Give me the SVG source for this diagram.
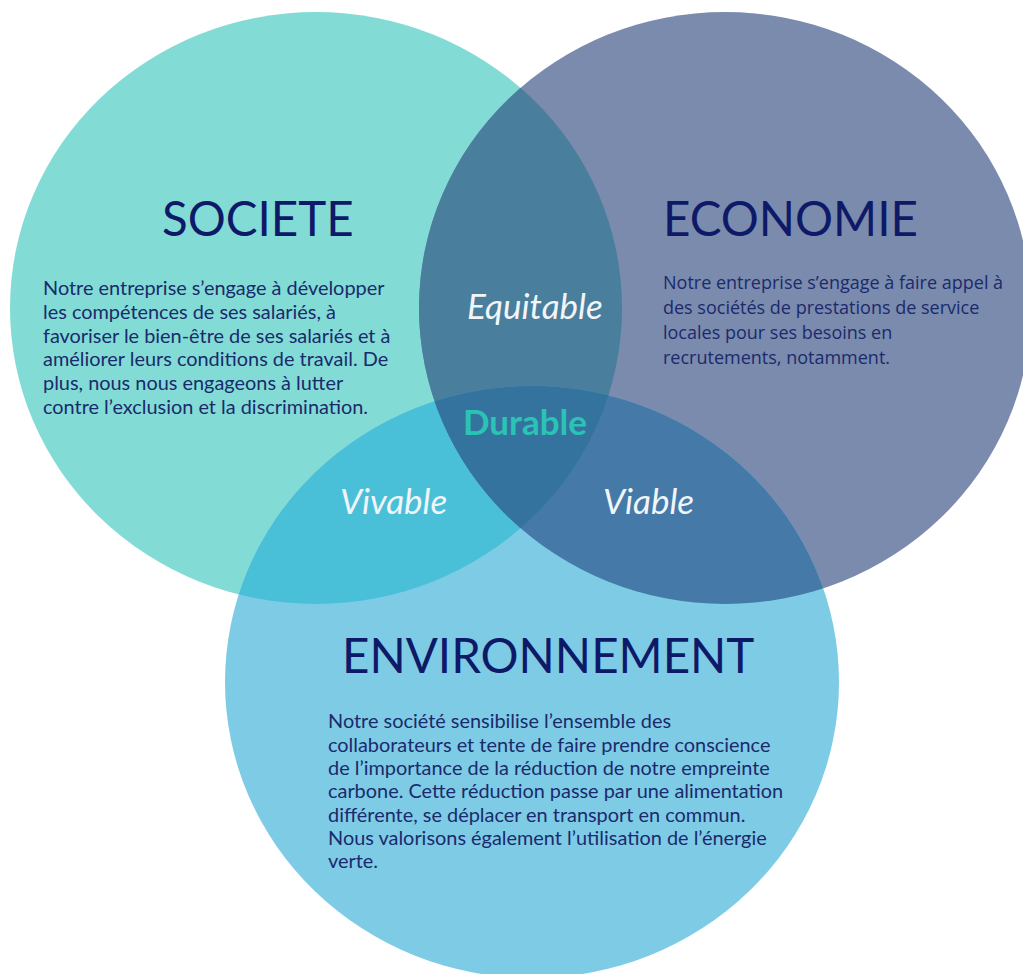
<svg xmlns="http://www.w3.org/2000/svg" width="1023" height="974" viewBox="0 0 1023 974">
<style>
.title{font-family:Lato,"Noto Sans",sans-serif;font-size:47.5px;fill:#0E1A68}
.body{font-family:Lato,"Noto Sans",sans-serif;font-size:19.9px;fill:#1B2A6C}
.bodyE{font-family:"Open Sans","Noto Sans",sans-serif;font-size:18px;fill:#1B2A6C}
.lab{font-family:Lato,"Noto Sans",sans-serif;font-style:italic;font-size:35px;fill:#F2F5F8}
.dur{font-family:Lato,"Noto Sans",sans-serif;font-weight:bold;font-size:35px;fill:#2BC3B5}
</style>
<defs>
<clipPath id="cS"><ellipse cx="316" cy="308" rx="306" ry="296"/></clipPath>
<clipPath id="cE"><ellipse cx="725" cy="308" rx="306" ry="296"/></clipPath>
</defs>
<rect width="1023" height="974" fill="#FFFFFF"/>
<g id="societe-circle"><ellipse cx="316" cy="308" rx="306" ry="296" fill="#82DCD5"/></g>
<g id="economie-circle"><ellipse cx="725" cy="308" rx="306" ry="296" fill="#7A8BAD"/></g>
<g id="environnement-circle"><ellipse cx="532" cy="682" rx="307" ry="296" fill="#7ECBE6"/></g>
<g id="overlaps">
<ellipse cx="725" cy="308" rx="306" ry="296" fill="#4A7E9D" clip-path="url(#cS)"/>
<ellipse cx="532" cy="682" rx="307" ry="296" fill="#4ABFD8" clip-path="url(#cS)"/>
<ellipse cx="532" cy="682" rx="307" ry="296" fill="#4579A7" clip-path="url(#cE)"/>
<g clip-path="url(#cS)"><ellipse cx="532" cy="682" rx="307" ry="296" fill="#35739F" clip-path="url(#cE)"/></g>
</g>
<g id="societe">
<text class="title" x="162" y="236">SOCIETE</text>
<text class="body" x="43" y="295">Notre entreprise s’engage à développer</text>
<text class="body" x="43" y="319">les compétences de ses salariés, à</text>
<text class="body" x="43" y="343">favoriser le bien-être de ses salariés et à</text>
<text class="body" x="43" y="366">améliorer leurs conditions de travail. De</text>
<text class="body" x="43" y="390">plus, nous nous engageons à lutter</text>
<text class="body" x="43" y="414">contre l’exclusion et la discrimination.</text>
</g>
<g id="economie">
<text class="title" x="663" y="236">ECONOMIE</text>
<text class="bodyE" x="663" y="289">Notre entreprise s’engage à faire appel à</text>
<text class="bodyE" x="663" y="314">des sociétés de prestations de service</text>
<text class="bodyE" x="663" y="339">locales pour ses besoins en</text>
<text class="bodyE" x="663" y="364">recrutements, notamment.</text>
</g>
<g id="environnement">
<text class="title" x="342" y="673">ENVIRONNEMENT</text>
<text class="body" x="328" y="728">Notre société sensibilise l’ensemble des</text>
<text class="body" x="328" y="752">collaborateurs et tente de faire prendre conscience</text>
<text class="body" x="328" y="775">de l’importance de la réduction de notre empreinte</text>
<text class="body" x="328" y="798">carbone. Cette réduction passe par une alimentation</text>
<text class="body" x="328" y="822">différente, se déplacer en transport en commun.</text>
<text class="body" x="328" y="845">Nous valorisons également l’utilisation de l’énergie</text>
<text class="body" x="328" y="868">verte.</text>
</g>
<g id="equitable"><text class="lab" x="467" y="319">Equitable</text></g>
<g id="durable"><text class="dur" x="463" y="435">Durable</text></g>
<g id="vivable"><text class="lab" x="340" y="514">Vivable</text></g>
<g id="viable"><text class="lab" x="603" y="514">Viable</text></g>
</svg>
